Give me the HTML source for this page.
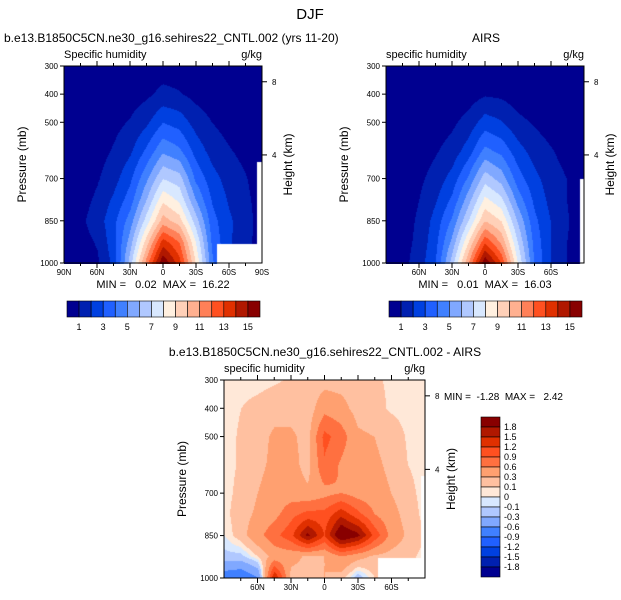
<!DOCTYPE html>
<html><head><meta charset="utf-8"><style>
body{margin:0;background:#fff;width:621px;height:600px;overflow:hidden;position:relative;font-family:"Liberation Sans",Arial,sans-serif}
canvas{position:absolute}
svg{position:absolute;left:0;top:0}
text{white-space:pre}
</style></head><body>
<canvas id="c1" width="198" height="198" style="left:64px;top:66px"></canvas>
<canvas id="c2" width="198" height="198" style="left:386px;top:66px"></canvas>
<canvas id="c3" width="201" height="198" style="left:224px;top:380px"></canvas>
<svg id="s" width="621" height="600"></svg>
<script>
const lats=[90,75,60,45,30,15,0,-15,-30,-45,-60,-75,-90];
const plev=[300,400,500,600,700,775,850,925,1000];
const modelQ=[
[.05,.05,.1,.15,.2,.3,.5,.4,.25,.15,.08,.05,.03],
[.1,.1,.2,.3,.5,.8,1.3,1.1,.7,.4,.2,.1,.05],
[.1,.2,.4,.7,1.1,1.8,3,2.6,1.6,1.0,.6,.3,.1],
[.1,.25,.6,1.1,1.8,3.2,4.8,4.2,2.6,1.6,1.1,.7,.2],
[.15,.4,.9,1.6,2.8,4.8,7,6.5,3.8,2.4,1.6,1.1,.4],
[.2,.6,1.2,2.2,3.5,6,8.8,7.8,5,2.9,1.9,1.3,.5],
[.3,.8,1.5,2.7,4.5,7.5,10.5,9.5,6.5,3.4,2.2,1.4,.6],
[.3,.6,1.1,2.6,5.5,9.5,13.5,12,8,3.8,2.2,1.3,.6],
[.2,.4,.8,2.3,6.5,11.5,16,13.5,9,4.2,2.2,1.2,.5]];
const airsQ=[
[.02,.03,.05,.1,.15,.2,.4,.35,.2,.1,.05,.03,.02],
[.02,.05,.1,.2,.3,.5,.9,.8,.45,.25,.1,.05,.02],
[.03,.1,.3,.5,.8,1.4,2.5,2.1,1.3,.9,.5,.25,.05],
[.05,.2,.5,.9,1.4,2.5,4.3,3.7,2.4,1.6,1.1,.6,.1],
[.1,.3,.8,1.4,2.4,4.2,6.6,5.6,3.5,2.3,1.5,1.0,.2],
[.15,.4,1,1.9,3.2,5.6,8.3,7.3,4.6,2.8,1.7,1.0,.3],
[.2,.5,1.2,2.4,4.2,7,10,9,5.9,3.3,2,1.1,.4],
[.25,.6,1.3,2.7,5.3,9,12.8,10.8,7,3.7,2,1,.5],
[.3,.7,1.5,3,6.5,11,16,13,8,4,2,1,.6]];
const diffQ=[
[.05,.05,.05,.08,.12,.15,.2,.2,.15,.12,.08,.05,.05],
[.05,.1,.15,.2,.2,.15,.5,.4,.2,.15,.08,.05,.05],
[.05,.12,.2,.35,.35,.2,1.0,.75,.35,.3,.2,.08,.05],
[.05,.12,.25,.35,.4,.2,.85,.55,.35,.35,.25,.1,.05],
[.05,.15,.3,.4,.45,.35,.5,.6,.45,.4,.3,.15,.05],
[.05,.2,.35,.5,.8,1.0,1.0,1.4,1.0,.6,.4,.2,.05],
[0,.2,.5,.8,1.1,1.9,1.2,2.2,1.9,1.1,.5,.25,.1],
[-.15,-.15,.1,.4,.4,.25,.3,.6,.4,.25,.2,.15,.05],
[-.8,-.9,-.6,1.5,.2,.2,.3,.2,-.2,.1,.1,.1,.05]];
const qLevels=[1,2,3,4,5,6,7,8,9,10,11,12,13,14,15];
const qColors=["#000090","#0020b0","#0040e0","#2060ff","#4080ff","#80a8ff","#b0c8ff","#d8e8ff","#fff0e0","#ffd0b8","#ffb090","#ff8058","#ff5020","#e03000","#b01800","#880000"];
const dLevels=[-1.8,-1.5,-1.2,-0.9,-0.6,-0.3,-0.1,0,0.1,0.3,0.6,0.9,1.2,1.5,1.8];
const dColors=["#000090","#0020b0","#0040e0","#2060ff","#4080ff","#80a8ff","#b0c8ff","#d8e8ff","#ffe8d8","#ffc0a0","#ffa070","#ff7040","#ff5020","#e03000","#b01800","#880000"];
const qLabels=["1","3","5","7","9","11","13","15"];
const dLabels=["1.8","1.5","1.2","0.9","0.6","0.3","0.1","0","-0.1","-0.3","-0.6","-0.9","-1.2","-1.5","-1.8"];
const pTicks=[300,400,500,700,850,1000];

function sample(g,lat,p){
  let fi=(90-lat)/15; let i=Math.min(11,Math.floor(fi)); let fx=fi-i;
  let j=0; while(j<plev.length-2&&p>plev[j+1])j++;
  let fy=(p-plev[j])/(plev[j+1]-plev[j]);
  const a=g[j][i],b=g[j][i+1],c=g[j+1][i],d=g[j+1][i+1];
  return (a*(1-fx)+b*fx)*(1-fy)+(c*(1-fx)+d*fx)*fy;
}
function hex(h){return [parseInt(h.slice(1,3),16),parseInt(h.slice(3,5),16),parseInt(h.slice(5,7),16)];}
function draw(id,g,levels,colors,missing){
  const cv=document.getElementById(id),ctx=cv.getContext('2d');
  const W=cv.width,H=cv.height,img=ctx.createImageData(W,H);
  const cols=colors.map(hex);
  for(let y=0;y<H;y++)for(let x=0;x<W;x++){
    const lat=90-180*x/(W-1),p=300+700*y/(H-1);
    let k=(y*W+x)*4;
    if(missing(lat,p)){img.data[k]=img.data[k+1]=img.data[k+2]=255;img.data[k+3]=255;continue;}
    const v=sample(g,lat,p);let n=0;while(n<levels.length&&v>=levels[n])n++;
    const c=cols[n];img.data[k]=c[0];img.data[k+1]=c[1];img.data[k+2]=c[2];img.data[k+3]=255;
  }
  ctx.putImageData(img,0,0);
}
draw('c1',modelQ,qLevels,qColors,(l,p)=>(l<-49&&p>929)||(l<-86&&p>640));
draw('c2',airsQ,qLevels,qColors,(l,p)=>(l<-87&&p>700));
draw('c3',diffQ,dLevels,dColors,(l,p)=>(l<-48&&p>929)||(l<-87&&p>640));

const S=document.getElementById('s'),NS="http://www.w3.org/2000/svg";
function el(t,a,txt){const e=document.createElementNS(NS,t);for(const k in a)e.setAttribute(k,a[k]);if(txt!==undefined)e.textContent=txt;S.appendChild(e);return e;}
function text(x,y,s,size,anchor,name,rot){const e=el('text',{x:x,y:y,'font-size':size,'text-anchor':anchor||'start','font-family':'Liberation Sans, Arial, sans-serif',fill:'#000'},s);
 e.setAttributeNS("http://www.w3.org/XML/1998/namespace","xml:space","preserve");
 if(rot)e.setAttribute('transform','rotate(-90 '+x+' '+y+')');
 
 return e;}
text(310,19,'DJF',15,'middle','main-title');
function panel(x0,y0,w,h,opts){
  const r=el('rect',{x:x0,y:y0,width:w,height:h,fill:'none',stroke:'#000','stroke-width':1});
  
  
  const py=p=>y0+(p-300)/700*h, lx=l=>x0+(90-l)/180*w;
  pTicks.forEach(p=>{const y=py(p);el('line',{x1:x0-4,x2:x0,y1:y,y2:y,stroke:'#000'});text(x0-6,y+3,String(p),8,'end','pressure-tick-label');});
  for(let l=-75;l<=75;l+=15){const x=lx(l);
    el('line',{x1:x,x2:x,y1:y0+h,y2:y0+h+(l%30===0?5:3),stroke:'#000'});
    el('line',{x1:x,x2:x,y1:y0,y2:y0-(l%30===0?5:3),stroke:'#000'});}
  const labs=opts.full?[90,60,30,0,-30,-60,-90]:[60,30,0,-30,-60];
  labs.forEach(l=>{const s=l===0?'0':(Math.abs(l)+(l>0?'N':'S'));text(lx(l),y0+h+12,s,8,'middle','latitude-tick-label');});
  [[8,356],[4,616]].forEach(([km,p])=>{const y=py(p);el('line',{x1:x0+w,x2:x0+w+5,y1:y,y2:y,stroke:'#000'});text(x0+w+10,y+3,String(km),8,'start','height-tick-label');});
  text(x0-38,y0+h/2,'Pressure (mb)',12,'middle','y-axis-title',true);
  text(x0+w+30,y0+h/2,'Height (km)',12,'middle','right-axis-title',true);
  text(x0,y0-8,opts.left,11,'start','variable-label');
  text(x0+w,y0-8,'g/kg',11,'end','units-label');
}
panel(64,66,198,197,{name:'model',full:true,left:'Specific humidity'});
panel(386,66,198,197,{name:'airs',full:false,left:'specific humidity'});
panel(224,380,201,198,{name:'diff',full:false,left:'specific humidity'});
text(4,42,'b.e13.B1850C5CN.ne30_g16.sehires22_CNTL.002 (yrs 11-20)',12,'start','model-title');
text(486,42,'AIRS',12,'middle','airs-title');
text(325,356,'b.e13.B1850C5CN.ne30_g16.sehires22_CNTL.002 - AIRS',12,'middle','diff-title');
text(163,288,'MIN =   0.02  MAX =  16.22',11,'middle','model-min-max');
text(485,288,'MIN =   0.01  MAX =  16.03',11,'middle','airs-min-max');
text(444,400,'MIN =  -1.28  MAX =   2.42',10,'start','diff-min-max');
function hbar(x0,name){
  const w=193/16;
  qColors.forEach((c,i)=>{const r=el('rect',{x:x0+i*w,y:301,width:w,height:16,fill:c,stroke:'#000','stroke-width':0.6});
    
    });
  qLabels.forEach((s,i)=>text(x0+(1+2*i)*w-w/2+w/2,330,s,9,'middle',name+'-label'));
}
hbar(67,'model-colorbar');hbar(389,'airs-colorbar');
dColors.slice().reverse().forEach((c,i)=>{const r=el('rect',{x:481,y:417+i*10,width:19,height:10,fill:c,stroke:'#000','stroke-width':0.6});
  
  });
dLabels.forEach((s,i)=>text(504,430+i*10,s,9,'start','diff-colorbar-label'));
</script>
</body></html>
